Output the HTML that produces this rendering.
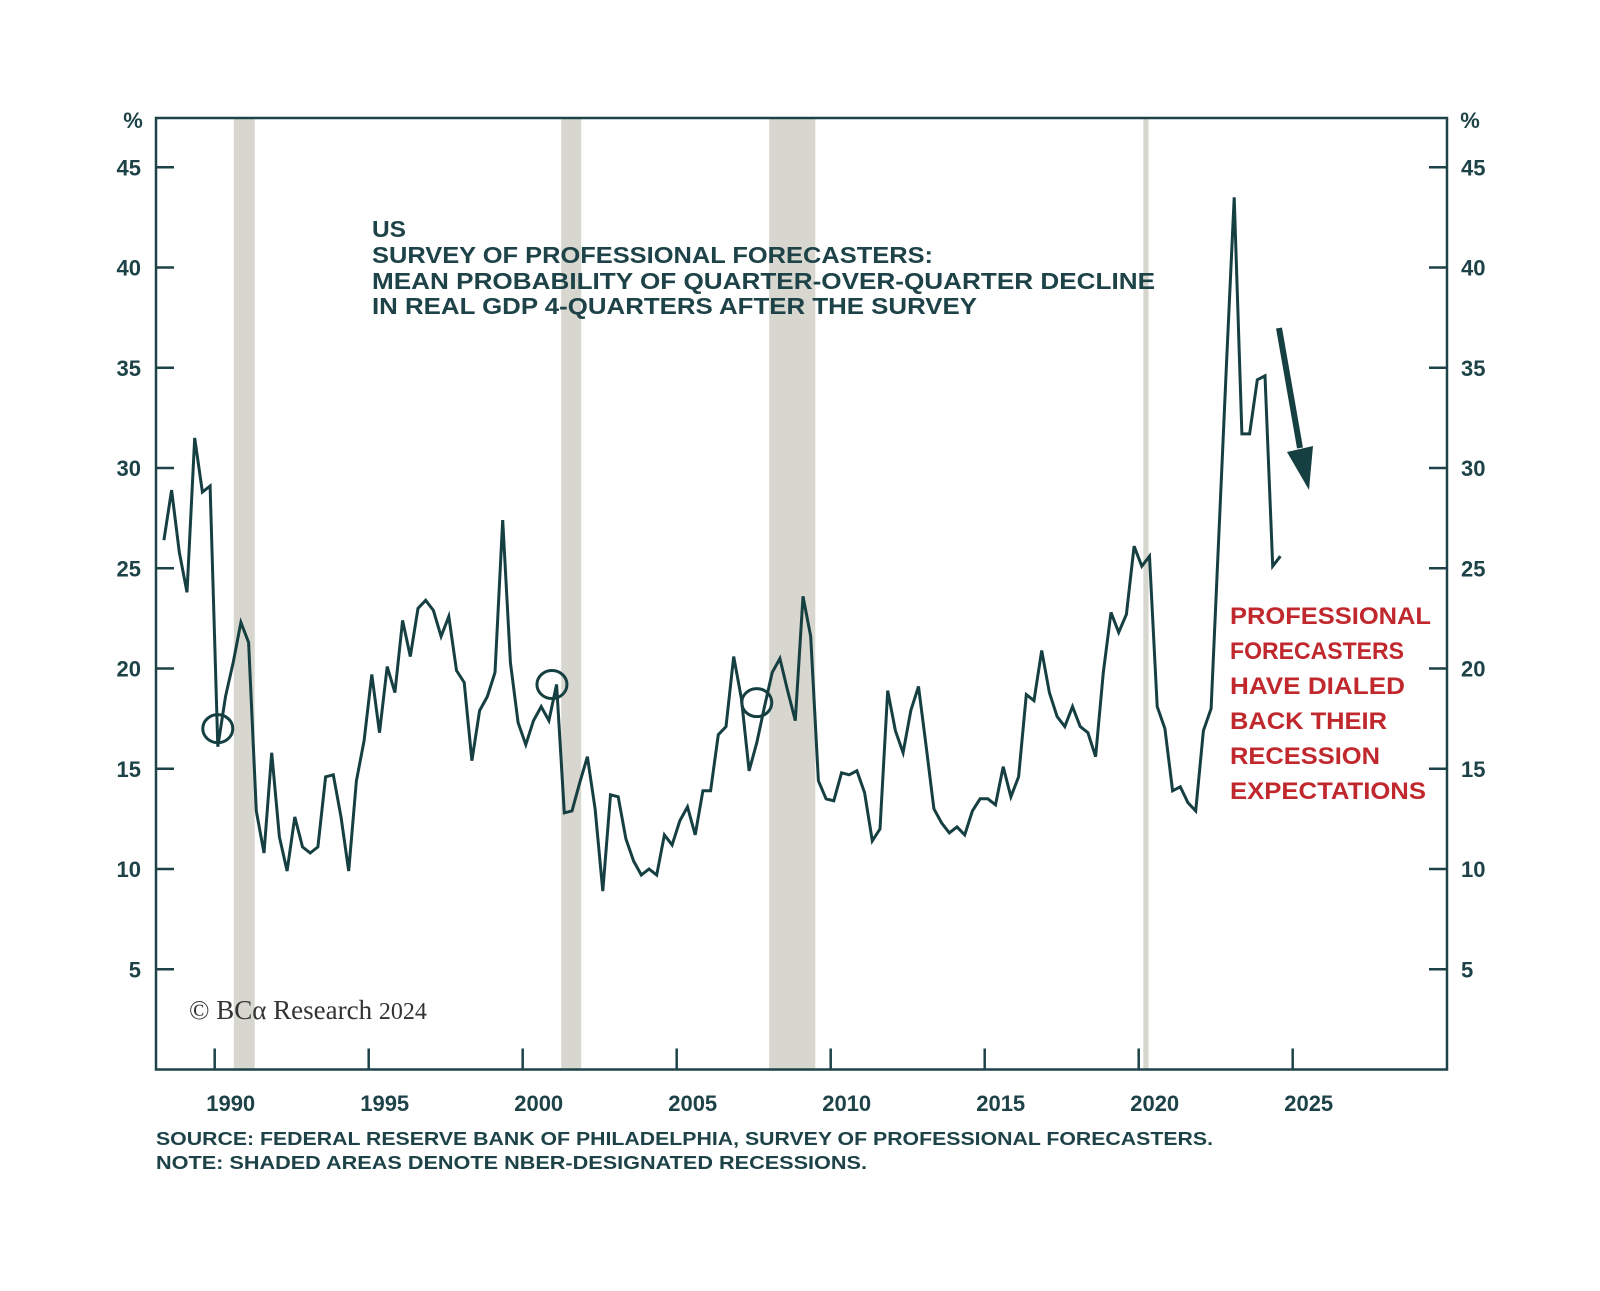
<!DOCTYPE html>
<html><head><meta charset="utf-8"><style>
html,body{margin:0;padding:0;background:#fff;}
svg{display:block;font-family:"Liberation Sans",sans-serif;}
</style></head><body>
<svg id="chart" width="1600" height="1291" viewBox="0 0 1600 1291" xmlns="http://www.w3.org/2000/svg">
<g id="bands"></g>
<g id="axes"></g>
<g id="series"></g>
<g fill="#1d4247" font-weight="bold" font-size="23">
<text x="372" y="237" textLength="34" lengthAdjust="spacingAndGlyphs">US</text>
<text x="372" y="263" textLength="561" lengthAdjust="spacingAndGlyphs">SURVEY OF PROFESSIONAL FORECASTERS:</text>
<text x="372" y="289" textLength="783" lengthAdjust="spacingAndGlyphs">MEAN PROBABILITY OF QUARTER-OVER-QUARTER DECLINE</text>
<text x="372" y="314" textLength="605" lengthAdjust="spacingAndGlyphs">IN REAL GDP 4-QUARTERS AFTER THE SURVEY</text>
</g>
<g fill="#c0282d" font-weight="bold" font-size="24">
<text x="1230" y="624" textLength="201" lengthAdjust="spacingAndGlyphs">PROFESSIONAL</text>
<text x="1230" y="659" textLength="174" lengthAdjust="spacingAndGlyphs">FORECASTERS</text>
<text x="1230" y="694" textLength="175" lengthAdjust="spacingAndGlyphs">HAVE DIALED</text>
<text x="1230" y="729" textLength="157" lengthAdjust="spacingAndGlyphs">BACK THEIR</text>
<text x="1230" y="764" textLength="150" lengthAdjust="spacingAndGlyphs">RECESSION</text>
<text x="1230" y="799" textLength="196" lengthAdjust="spacingAndGlyphs">EXPECTATIONS</text>
</g>
<g>
<line x1="1279" y1="328" x2="1300" y2="448" stroke="#163f42" stroke-width="6"/>
<polygon points="1287,452 1313,446 1309,490" fill="#163f42"/>
</g>
<text x="189" y="1019" font-family="Liberation Serif, serif" font-size="27" fill="#333">© BCα Research <tspan font-size="24">2024</tspan></text>
<g fill="#1d4247" font-weight="bold" font-size="18">
<text x="156" y="1145" textLength="1057" lengthAdjust="spacingAndGlyphs">SOURCE: FEDERAL RESERVE BANK OF PHILADELPHIA, SURVEY OF PROFESSIONAL FORECASTERS.</text>
<text x="156" y="1169" textLength="711" lengthAdjust="spacingAndGlyphs">NOTE: SHADED AREAS DENOTE NBER-DESIGNATED RECESSIONS.</text>
</g>
</svg>
<script>
const startDate = 1988.35;
const probValues = [26.4,28.9,25.8,23.8,31.5,28.8,29.1,16.1,18.6,20.3,22.3,21.3,12.9,10.8,15.8,11.6,9.9,12.6,11.1,10.8,11.1,14.6,14.7,12.6,9.9,14.4,16.4,19.7,16.8,20.1,18.8,22.4,20.6,23.0,23.4,22.9,21.6,22.6,19.9,19.3,15.4,17.9,18.6,19.8,27.4,20.3,17.3,16.2,17.4,18.1,17.4,19.2,12.8,
12.9,14.3,15.6,13.0,8.9,13.7,13.6,11.5,10.4,9.7,10.0,9.7,11.7,11.2,12.4,13.1,11.7,13.9,13.9,16.7,17.1,20.6,18.5,14.9,16.3,18.1,19.8,20.5,18.9,17.4,23.6,21.6,14.4,13.5,13.4,14.8,14.7,14.9,13.8,11.4,12.0,18.9,16.9,15.8,17.9,19.1,16.1,13.0,12.3,11.8,12.1,11.7,12.9,13.5,
13.5,13.2,15.1,13.6,14.6,18.7,18.4,20.9,18.8,17.6,17.1,18.1,17.1,16.8,15.6,19.8,22.8,21.8,22.7,26.1,25.1,25.6,18.1,17.0,13.9,14.1,13.3,12.9,16.9,18.0,26.6,35.2,43.5,31.7,31.7,34.4,34.6,25.1,25.6];
const recessionStarts = [1990.62, 2001.25, 2008.0, 2020.15];
const recessionEnds = [1991.3, 2001.9, 2009.5, 2020.32];
const yTicks = [5,10,15,20,25,30,35,40,45];
const xTicks = [1990,1995,2000,2005,2010,2015,2020,2025];
const circleDates = [1990.1, 2000.95, 2007.6];
const circleValues = [17.0, 19.2, 18.3];

const NS='http://www.w3.org/2000/svg';
const L=156,R=1447,T=118,B=1069.5;
function xs(d){return 214.7+(d-1990)*30.8;}
function ys(v){return 1069.5-v*20.05;}
function mk(tag,attrs,parent){const e=document.createElementNS(NS,tag);for(const k in attrs)e.setAttribute(k,attrs[k]);parent.appendChild(e);return e;}
const bands=document.getElementById('bands'),axes=document.getElementById('axes'),series=document.getElementById('series');
recessionStarts.forEach((s,i)=>{
  const r=mk('rect',{x:xs(s),y:T,width:xs(recessionEnds[i])-xs(s),height:B-T,fill:'#d7d7cf'},bands);
  
  
});
const frame=mk('rect',{x:L,y:T,width:R-L,height:B-T,fill:'none',stroke:'#1d4247','stroke-width':2.5},axes);


yTicks.forEach(v=>{
  const y=ys(v);
  const t1=mk('line',{x1:L,x2:L+18,y1:y,y2:y,stroke:'#1d4247','stroke-width':2.5},axes);
  
  
  const t2=mk('line',{x1:R-18,x2:R,y1:y,y2:y,stroke:'#1d4247','stroke-width':2.5},axes);
  
  
  const a=mk('text',{x:141,y:y+8,'text-anchor':'end','font-size':22,'font-weight':'bold',fill:'#1d4247'},axes);
  a.textContent=v;
  
  
  const b=mk('text',{x:1461,y:y+8,'font-size':22,'font-weight':'bold',fill:'#1d4247'},axes);
  b.textContent=v;
  
  
});
const p1=mk('text',{x:133,y:128,'text-anchor':'middle','font-size':22,'font-weight':'bold',fill:'#1d4247'},axes);
p1.textContent='%';


const p2=mk('text',{x:1470,y:128,'text-anchor':'middle','font-size':22,'font-weight':'bold',fill:'#1d4247'},axes);
p2.textContent='%';


xTicks.forEach(d=>{
  const x=xs(d);
  const t=mk('line',{x1:x,x2:x,y1:B-21,y2:B,stroke:'#1d4247','stroke-width':2.5},axes);
  
  
  const lb=mk('text',{x:x+16,y:1111,'text-anchor':'middle','font-size':22,'font-weight':'bold',fill:'#1d4247'},axes);
  lb.textContent=d;
  
  
});
const pts=probValues.map((v,i)=>xs(startDate+i*0.25).toFixed(1)+','+ys(v).toFixed(1)).join(' ');
const line=mk('polyline',{points:pts,fill:'none',stroke:'#163f42','stroke-width':3,'stroke-linejoin':'miter'},series);


circleDates.forEach((d,i)=>{
  const c=mk('ellipse',{cx:xs(d),cy:ys(circleValues[i]),rx:15,ry:14,fill:'none',stroke:'#163f42','stroke-width':3},series);
  
  
});
</script>
</body></html>
